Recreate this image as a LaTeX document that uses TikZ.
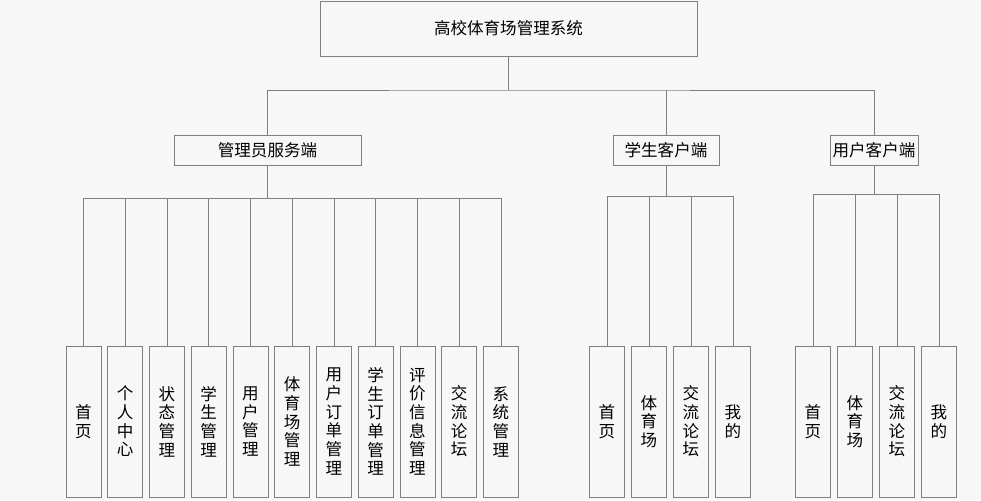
\documentclass[tikz,border=0pt]{standalone}
\usepackage{fontspec}
\newfontfamily\cjk{Noto Sans CJK SC}
\tikzset{
  box/.style={draw=gray, line width=.75pt, inner sep=0pt, align=center, font=\cjk\fontsize{12.4}{14}\selectfont},
  leaf/.style={box, minimum width=26.25pt, minimum height=113.25pt},
  line/.style={draw=gray, line width=.75pt},
}
\begin{document}
\begin{tikzpicture}[x=.75pt, y=-.75pt]
\fill[black!3] (0,0) rectangle (981,500);
\useasboundingbox (0,0) rectangle (981,500);
% top and second level
\node[box, minimum width=282.75pt, minimum height=41.25pt] (root) at (508.5,28.5) {高校体育场管理系统};
\node[box, minimum width=140.25pt, minimum height=22.5pt] (admin) at (267.5,150) {管理员服务端};
\node[box, minimum width=79.5pt, minimum height=22.5pt] (stu) at (666,150) {学生客户端};
\node[box, minimum width=66pt, minimum height=22.5pt] (user) at (874,150) {用户客户端};
\coordinate (top) at (508.5,90);
\draw[line] (root) -- (top);
\draw[line] (admin) |- (top) -| (user);
\draw[line] (stu) -- (stu |- top);
% leaves
\foreach \t [count=\i] in {{首\\页},{个\\人\\中\\心},{状\\态\\管\\理},{学\\生\\管\\理},{用\\户\\管\\理},{体\\育\\场\\管\\理},{用\\户\\订\\单\\管\\理},{学\\生\\订\\单\\管\\理},{评\\价\\信\\息\\管\\理},{交\\流\\论\\坛},{系\\统\\管\\理}}
  \node[leaf] (a\i) at ({83.5+41.75*(\i-1)},421.5) {\t};
\foreach \t [count=\i] in {{首\\页},{体\\育\\场},{交\\流\\论\\坛},{我\\的}}{
  \node[leaf] (s\i) at ({607+42*(\i-1)},421.5) {\t};
  \node[leaf] (u\i) at ({813+42*(\i-1)},421.5) {\t};
}
% buses
\coordinate (abus) at (0,198);
\coordinate (sbus) at (0,196);
\coordinate (ubus) at (0,194);
\draw[line] (admin) -- (admin |- abus);
\draw[line] (a1 |- abus) -- (a11 |- abus);
\foreach \i in {1,...,11} \draw[line] (a\i) -- (a\i |- abus);
\draw[line] (stu) -- (stu |- sbus);
\draw[line] (s1 |- sbus) -- (s4 |- sbus);
\draw[line] (user) -- (user |- ubus);
\draw[line] (u1 |- ubus) -- (u4 |- ubus);
\foreach \i in {1,...,4}{
  \draw[line] (s\i) -- (s\i |- sbus);
  \draw[line] (u\i) -- (u\i |- ubus);
}
\end{tikzpicture}
\end{document}
